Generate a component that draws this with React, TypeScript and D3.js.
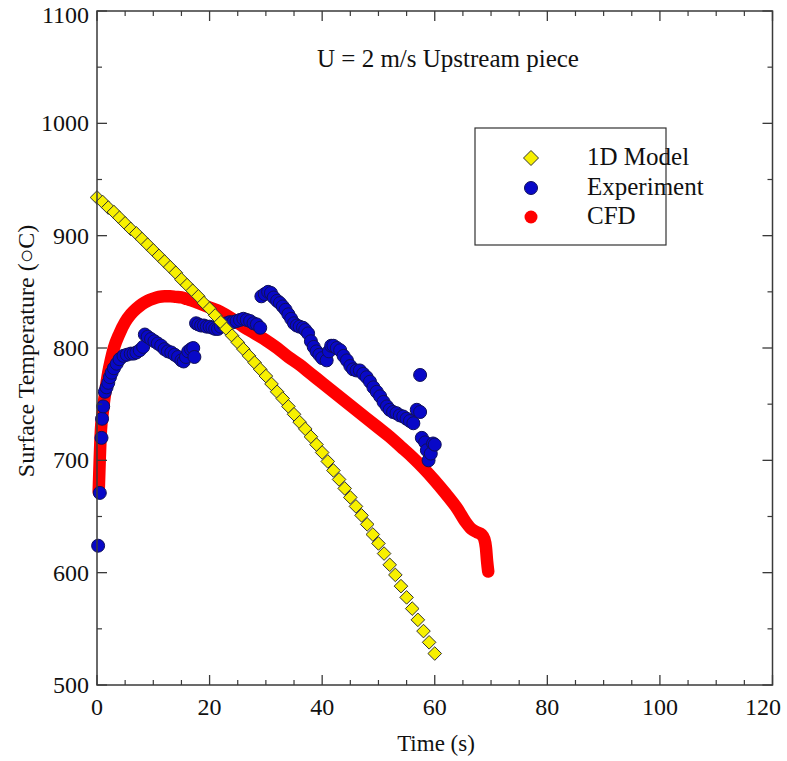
import React from "react";
import * as d3 from "d3";

const modelTime = [
  0, 1, 2, 3, 4, 5, 6, 7, 8, 9, 10, 11, 12, 13, 14, 15, 16, 17, 18, 19, 20,
  21, 22, 23, 24, 25, 26, 27, 28, 29, 30, 31, 32, 33, 34, 35, 36, 37, 38, 39, 40,
  41, 42, 43, 44, 45, 46, 47, 48, 49, 50, 51, 52, 53, 54, 55, 56, 57, 58, 59, 60,
];
const modelTemp = [
  934, 930, 925, 921, 916, 911, 906, 902, 897, 892, 887, 882, 877, 872, 867, 861, 856, 851, 846, 840, 835,
  829, 823, 817, 811, 805, 799, 793, 787, 781, 775, 768, 761, 755, 748, 741, 734, 728, 721, 714, 707,
  699, 691, 683, 675, 667, 659, 651, 643, 634, 626, 617, 607, 598, 588, 578, 568, 558, 548, 538, 528,
];

const expTime = [
  0.2, 0.5, 0.8, 0.9, 1.1, 1.4, 1.7, 2.0, 2.3, 2.6, 3.0, 3.5, 4.0, 4.7, 5.3, 6.0, 6.5, 7.0, 7.6, 8.2,
  8.5, 9.0, 9.6, 10.2, 10.8, 11.4, 12.0, 12.6, 13.2, 13.8, 14.4, 15.0, 15.4, 15.8, 16.2, 16.7, 17.1, 17.3,
  17.6, 18.0, 18.5, 19.0, 19.5, 20.0, 20.5, 21.0, 21.5, 22.0, 22.5, 23.0, 23.6, 24.2, 24.8, 25.4, 26.0,
  26.6, 27.2, 27.8, 28.4, 29.0, 29.2, 29.8, 30.4, 30.9, 31.4, 32.0, 32.5, 33.0, 33.5, 34.0, 34.5, 35.0,
  35.5, 36.0, 36.6, 37.0, 37.5, 38.0, 38.5, 39.0, 39.5, 40.0, 40.8, 41.2, 41.6, 42.0, 42.6, 43.2, 43.8,
  44.4, 45.0, 45.5, 46.1, 46.7, 47.3, 47.9, 48.5, 49.1, 49.7, 50.3, 50.9, 51.5, 52.0, 52.6, 53.2, 53.8,
  54.4, 55.0, 55.6, 56.2, 56.8, 57.4, 57.4, 57.7, 58.3, 58.6, 58.9, 59.3, 59.7, 60.0,
];
const expTemp = [
  624, 671, 720, 737, 748, 761, 765, 769, 774, 778, 782, 786, 790, 793, 794, 795, 795, 796, 798, 801,
  812, 810, 808, 806, 804, 802, 799, 797, 796, 794, 792, 789, 788, 792, 797, 799, 800, 792,
  822, 821, 820, 820, 819, 819, 818, 817, 817, 819, 821, 822, 823, 823, 824, 825, 826,
  825, 824, 822, 821, 818, 846, 848, 850, 849, 845, 842, 840, 837, 834, 830, 826, 822,
  820, 819, 818, 816, 813, 806, 801, 797, 794, 791, 789, 797, 802, 802, 800, 798, 793,
  789, 784, 781, 780, 780, 777, 774, 770, 765, 761, 757, 752, 748, 745, 743, 742, 740,
  739, 737, 735, 733, 745, 743, 776, 720, 716, 709, 700, 706, 715, 714,
];

const cfdTime = [
  0.3, 0.5, 0.7, 1.0, 1.5, 2.0, 2.5, 3, 4, 5, 6, 7, 8, 9, 10, 11, 12, 13, 14, 15, 16, 17, 18,
  20, 22, 24, 26, 28, 30, 32, 34, 36, 38, 40, 42, 44, 46, 48, 50, 52, 54, 56, 58, 60, 62, 64,
  65.5, 66.5, 67.5, 68.3, 68.8, 69.1, 69.3, 69.5,
];
const cfdTemp = [
  672, 703, 727, 742, 762, 778, 790, 800, 813, 823, 830, 835, 839, 842, 844, 845.5, 846, 846, 845.5, 845, 843.5, 842, 840,
  836, 832, 826, 819, 813, 807, 800, 792, 785, 777, 769, 761, 753, 745, 737, 729, 721, 712, 703, 693, 682, 670, 657,
  645, 639, 636, 634, 630, 622, 610, 601,
];

const xTicks = [0, 20, 40, 60, 80, 100, 120];
const yTicks = [500, 600, 700, 800, 900, 1000, 1100];
const legendLabels = ["1D Model", "Experiment", "CFD"];

const W = 787;
const H = 761;
const L = 97;
const R = 772.5;
const T = 11;
const B = 685;
const FONT = "'Liberation Serif', 'Times New Roman', serif";
const AX = "#3a3a3a";

export default function App() {
  const x = d3.scaleLinear().domain([0, 120]).range([L, R]);
  const y = d3.scaleLinear().domain([500, 1100]).range([B, T]);

  const minorX = d3.range(0, 121, 5).filter((v) => v % 20 !== 0);
  const minorY = d3.range(500, 1101, 50).filter((v) => v % 100 !== 0);

  const cfdLine = d3
    .line<number>()
    .x((_, i) => x(cfdTime[i]))
    .y((d) => y(d))
    .curve(d3.curveMonotoneX)(cfdTemp);

  const diamond = (cx: number, cy: number, r: number) =>
    `M${cx},${cy - r}L${cx + r},${cy}L${cx},${cy + r}L${cx - r},${cy}Z`;

  const legX = 531;
  const legY = [158, 188, 217];

  return (
    <svg
      width={W}
      height={H}
      style={{ position: "absolute", left: 0, top: 0, background: "#fff" }}
      fontFamily={FONT}
    >
      <rect x={0} y={0} width={W} height={H} fill="#fff" />
      {/* CFD */}
      <path d={cfdLine || ""} fill="none" stroke="#ff0000" strokeWidth={12.5} strokeLinejoin="round" strokeLinecap="round" />
      {/* Experiment */}
      {expTemp.map((v, i) => (
        <circle key={"e" + i} cx={x(expTime[i])} cy={y(v)} r={6.5} fill="#0808c8" stroke="#10105a" strokeWidth={1} />
      ))}
      {/* 1D model */}
      {modelTemp.map((v, i) => (
        <path key={"m" + i} d={diamond(x(modelTime[i]), y(v), 6.8)} fill="#f7f000" stroke="#333" strokeWidth={1} />
      ))}

      {/* Frame */}
      <rect x={L} y={T} width={R - L} height={B - T} fill="none" stroke={AX} strokeWidth={1.5} />
      {xTicks.map((v, i) => (
        <g key={"xt" + v}>
          <line x1={x(v)} x2={x(v)} y1={B} y2={B - 10} stroke={AX} strokeWidth={1.3} />
          <line x1={x(v)} x2={x(v)} y1={T} y2={T + 10} stroke={AX} strokeWidth={1.3} />
          <text
            x={i === xTicks.length - 1 ? W - 6 : x(v)}
            y={B + 30}
            textAnchor={i === xTicks.length - 1 ? "end" : "middle"}
            fontSize={24}
            fill="#111"
          >
            {v}
          </text>
        </g>
      ))}
      {minorX.map((v) => (
        <g key={"xm" + v}>
          <line x1={x(v)} x2={x(v)} y1={B} y2={B - 5} stroke={AX} strokeWidth={1.2} />
          <line x1={x(v)} x2={x(v)} y1={T} y2={T + 5} stroke={AX} strokeWidth={1.2} />
        </g>
      ))}
      {yTicks.map((v, i) => (
        <g key={"yt" + v}>
          <line x1={L} x2={L + 10} y1={y(v)} y2={y(v)} stroke={AX} strokeWidth={1.3} />
          <line x1={R} x2={R - 10} y1={y(v)} y2={y(v)} stroke={AX} strokeWidth={1.3} />
          <text
            x={L - 8}
            y={y(v) + (i === yTicks.length - 1 ? 12 : 8)}
            textAnchor="end"
            fontSize={24}
            fill="#111"
          >
            {v}
          </text>
        </g>
      ))}
      {minorY.map((v) => (
        <g key={"ym" + v}>
          <line x1={L} x2={L + 5} y1={y(v)} y2={y(v)} stroke={AX} strokeWidth={1.2} />
          <line x1={R} x2={R - 5} y1={y(v)} y2={y(v)} stroke={AX} strokeWidth={1.2} />
        </g>
      ))}

      {/* Axis titles */}
      <text x={436} y={751} textAnchor="middle" fontSize={23} fill="#111">
        Time (s)
      </text>
      <text
        transform={`translate(34,351) rotate(-90)`}
        textAnchor="middle"
        fontSize={24}
        fill="#111"
      >
        Surface Temperature (○C)
      </text>

      {/* Title */}
      <text x={448} y={67} textAnchor="middle" fontSize={25} fill="#111">
        U = 2 m/s Upstream piece
      </text>

      {/* Legend */}
      <rect x={475} y={128} width={191} height={117} fill="#fff" stroke="#333" strokeWidth={1.2} />
      <path d={diamond(legX, legY[0], 7.5)} fill="#f7f000" stroke="#333" strokeWidth={1} />
      <circle cx={legX} cy={legY[1]} r={6.5} fill="#0808c8" stroke="#10105a" strokeWidth={1} />
      <circle cx={legX} cy={legY[2]} r={6.5} fill="#ff0000" />
      {legendLabels.map((s, i) => (
        <text key={s} x={587} y={legY[i] + 7} fontSize={25} fill="#111">
          {s}
        </text>
      ))}
    </svg>
  );
}
